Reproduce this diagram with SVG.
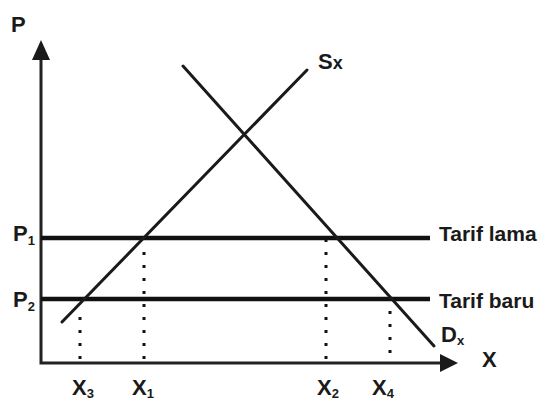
<svg xmlns="http://www.w3.org/2000/svg" width="546" height="403" viewBox="0 0 546 403">
<style>
.lbl{font-family:"Liberation Sans",Arial,sans-serif;font-weight:bold;fill:#1a1a1a}
.big{font-size:22px}
.sub{font-size:13px}
.axis{stroke:#222;stroke-width:3;fill:none}
.price{stroke:#111;stroke-width:4.5}
.curve{stroke:#1a1a1a;stroke-width:3;stroke-linecap:round}
.dot{stroke:#111;stroke-width:3;stroke-dasharray:3 10}
</style>
<rect width="546" height="403" fill="#fff"/>
<g id="axes">
<polyline class="axis" points="41,58 41,363 442,363"/>
<polygon points="41,40 32,60 50,60" fill="#1a1a1a"/>
<polygon points="458,363 440,354 440,372" fill="#1a1a1a"/>
</g>
<g id="connectors">
<line class="price" x1="41" y1="238" x2="430" y2="238"/>
<line class="price" x1="41" y1="299" x2="430" y2="299"/>
<line class="curve" x1="62" y1="322" x2="307" y2="70"/>
<line class="curve" x1="183" y1="66" x2="434" y2="346"/>
<line class="dot" x1="144" y1="252" x2="144" y2="360"/>
<line class="dot" x1="80" y1="317" x2="80" y2="360"/>
<line class="dot" x1="326" y1="239" x2="326" y2="360"/>
<line class="dot" x1="390" y1="311" x2="390" y2="360"/>
</g>
<g id="labels">
<text class="lbl big" x="11" y="32">P</text>
<text class="lbl big" x="13" y="241">P<tspan class="sub" dy="4">1</tspan></text>
<text class="lbl big" x="13" y="307">P<tspan class="sub" dy="4">2</tspan></text>
<text class="lbl big" x="72" y="395">X<tspan class="sub" dy="3">3</tspan></text>
<text class="lbl big" x="132" y="395">X<tspan class="sub" dy="3">1</tspan></text>
<text class="lbl big" x="317" y="395">X<tspan class="sub" dy="3">2</tspan></text>
<text class="lbl big" x="372" y="395">X<tspan class="sub" dy="3">4</tspan></text>
<text class="lbl big" x="482" y="367">X</text>
<text class="lbl big" x="441" y="342">D<tspan class="sub" dy="3">x</tspan></text>
<text class="lbl big" x="318" y="69">S<tspan style="font-size:18px">x</tspan></text>
<text class="lbl" x="439" y="241" style="font-size:21px">Tarif lama</text>
<text class="lbl" x="439" y="308" style="font-size:21px">Tarif baru</text>
</g>
</svg>
